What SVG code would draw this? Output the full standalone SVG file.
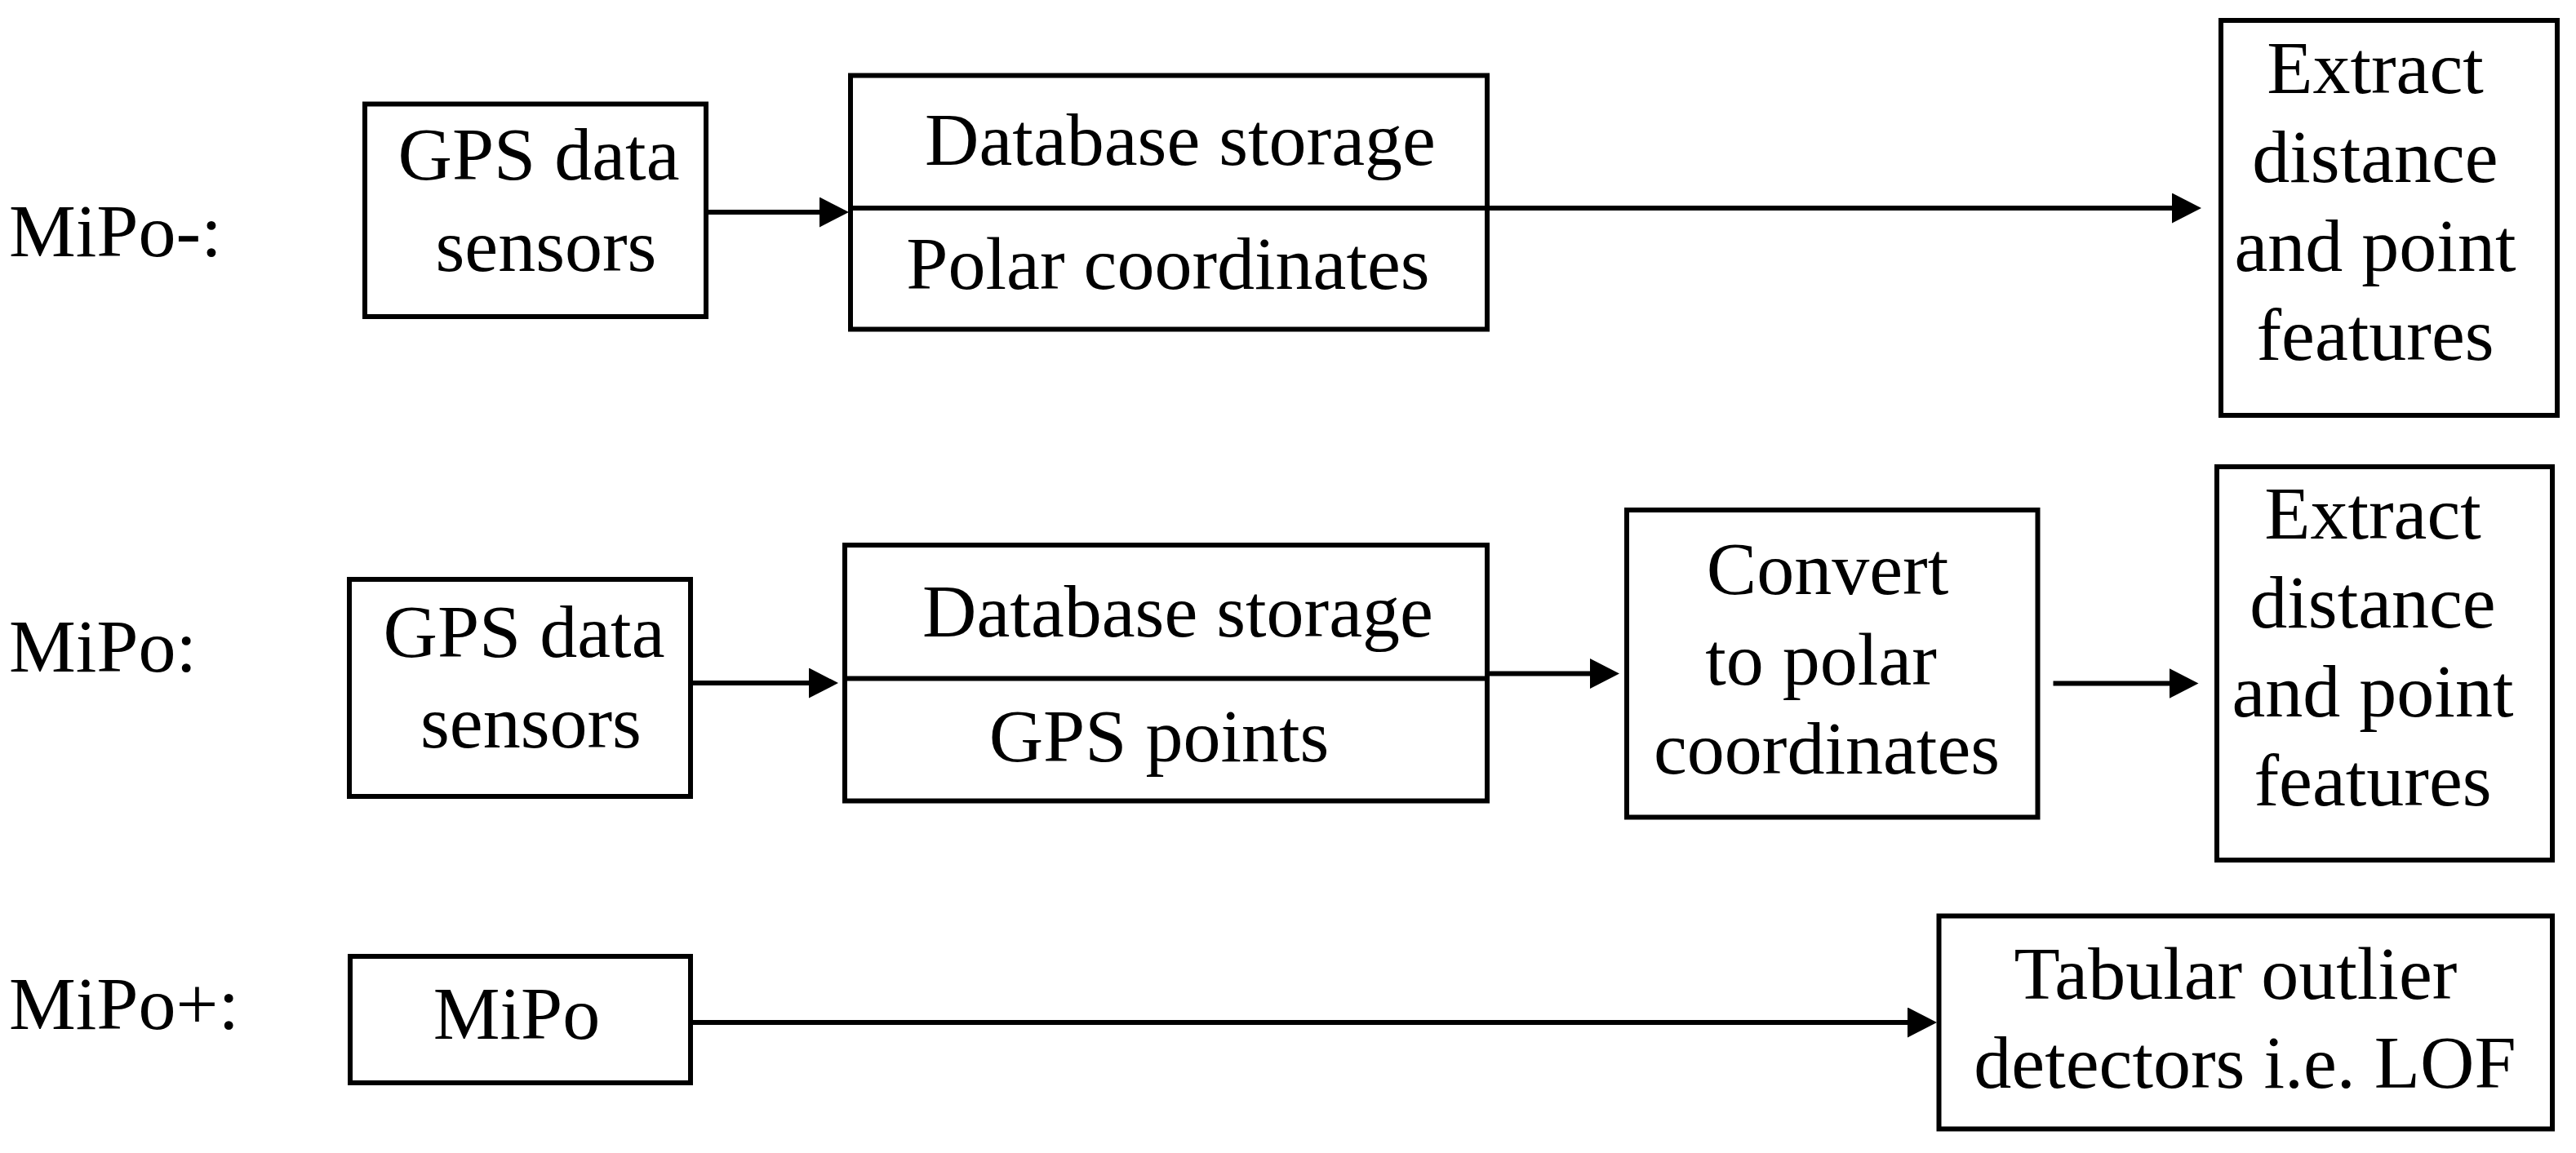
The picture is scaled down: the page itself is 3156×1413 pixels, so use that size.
<svg xmlns="http://www.w3.org/2000/svg" width="3156" height="1413" viewBox="0 0 3156 1413">
<style>
  .box { fill: #ffffff; stroke: #000000; stroke-width: 6; }
  .div { stroke: #000000; stroke-width: 6; fill: none; }
  .t { font-family: "Liberation Serif", "Times New Roman", serif; font-size: 92px; fill: #000000; text-anchor: middle; }
  .lbl { font-family: "Liberation Serif", "Times New Roman", serif; font-size: 92px; fill: #000000; text-anchor: start; }
  .conn { stroke: #000000; stroke-width: 6; fill: none; marker-end: url(#arrow); }
</style>
<defs>
  <marker id="arrow" markerUnits="userSpaceOnUse" markerWidth="37" markerHeight="37" refX="16" refY="18.5" orient="auto">
    <path d="M0,0 L36,18.5 L0,37 Z" fill="#000000"/>
  </marker>
</defs>
<rect x="0" y="0" width="3156" height="1413" fill="#ffffff"/>

<g id="labels">
  <text class="lbl" x="11" y="314">MiPo-:</text>
  <text class="lbl" x="11" y="823">MiPo:</text>
  <text class="lbl" x="11" y="1261">MiPo+:</text>
</g>

<g id="connectors">
  <path class="conn" d="M865,260 L1020,260"/>
  <path class="conn" d="M1822,255 L2677,255"/>
  <path class="conn" d="M846,837 L1007,837"/>
  <path class="conn" d="M1822,825.5 L1964,825.5"/>
  <path class="conn" d="M2515.5,837.5 L2673.5,837.5"/>
  <path class="conn" d="M846,1253 L2353,1253"/>
</g>

<g id="gps1">
  <rect class="box" x="447" y="127.5" width="418" height="260.5"/>
  <text class="t" x="660" y="220">GPS data</text>
  <text class="t" x="669" y="332">sensors</text>
</g>

<g id="db1">
  <rect class="box" x="1042" y="92.5" width="780" height="311"/>
  <line class="div" x1="1042" y1="255" x2="1822" y2="255"/>
  <text class="t" x="1446" y="202">Database storage</text>
  <text class="t" x="1431" y="354">Polar coordinates</text>
</g>

<g id="extract1">
  <rect class="box" x="2721" y="25" width="412" height="484"/>
  <text class="t" x="2910" y="114">Extract</text>
  <text class="t" x="2910" y="223">distance</text>
  <text class="t" x="2910" y="332">and point</text>
  <text class="t" x="2910" y="441">features</text>
</g>

<g id="gps2">
  <rect class="box" x="428" y="710" width="418" height="266"/>
  <text class="t" x="642" y="805">GPS data</text>
  <text class="t" x="650.5" y="915.5">sensors</text>
</g>

<g id="db2">
  <rect class="box" x="1035" y="668" width="787" height="313.5"/>
  <line class="div" x1="1035" y1="831.5" x2="1822" y2="831.5"/>
  <text class="t" x="1443" y="780">Database storage</text>
  <text class="t" x="1420" y="933">GPS points</text>
</g>

<g id="convert">
  <rect class="box" x="1993" y="625" width="503.5" height="376.5"/>
  <text class="t" x="2239" y="728">Convert</text>
  <text class="t" x="2231" y="839">to polar</text>
  <text class="t" x="2238" y="948">coordinates</text>
</g>

<g id="extract2">
  <rect class="box" x="2716" y="572" width="411" height="482"/>
  <text class="t" x="2907" y="660">Extract</text>
  <text class="t" x="2907" y="769">distance</text>
  <text class="t" x="2907" y="878">and point</text>
  <text class="t" x="2907" y="987">features</text>
</g>

<g id="mipo">
  <rect class="box" x="429" y="1172" width="417" height="155"/>
  <text class="t" x="633" y="1273">MiPo</text>
</g>

<g id="tabular">
  <rect class="box" x="2375.5" y="1122.5" width="751.5" height="261"/>
  <text class="t" x="2739" y="1224">Tabular outlier</text>
  <text class="t" x="2750.5" y="1333">detectors i.e. LOF</text>
</g>
</svg>
